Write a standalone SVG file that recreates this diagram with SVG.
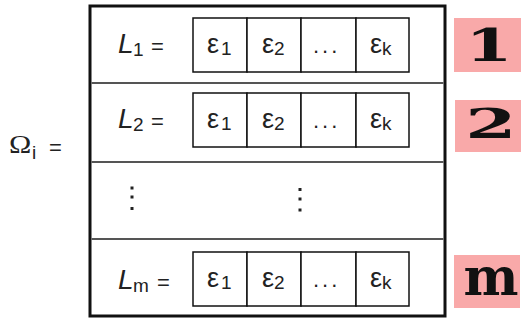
<svg xmlns="http://www.w3.org/2000/svg" width="523" height="322" viewBox="0 0 523 322">
<style>
.t{font-family:"Liberation Sans",Arial,sans-serif;font-size:22px;fill:#222;}
.e{font-family:"Liberation Sans",Arial,sans-serif;font-size:27px;fill:#222;}
.sub{font-family:"Liberation Sans",Arial,sans-serif;font-size:19px;fill:#222;}
.dd{font-family:"Liberation Sans",Arial,sans-serif;font-size:22px;fill:#222;letter-spacing:3px;}
.L{font-family:"Liberation Sans",Arial,sans-serif;font-size:28px;font-style:italic;fill:#222;}
.cell{fill:#fff;stroke:#111;stroke-width:1.5;}
.div{stroke:#555;stroke-width:2;}
.tag{fill:#f9a9a9;}
.num{font-family:"DejaVu Serif",serif;font-weight:bold;fill:#111;}
.dot{fill:#222;}
</style>
<rect width="523" height="322" fill="#fff"/>
<g id="omega">
<text x="9" y="153" font-family="Liberation Serif, serif" font-size="25" fill="#222" transform="translate(9,153) scale(1.2,1) translate(-9,-153)">Ω</text>
<text x="32" y="159" class="sub" font-size="17">i</text>
<text x="49" y="155" class="t">=</text>
</g>
<g id="frame">
<rect x="90" y="6" width="355" height="310" fill="#fff" stroke="#111" stroke-width="3"/>
</g>
<g id="connectors">
<line class="div" x1="91.5" y1="83" x2="443.5" y2="83"/>
<line class="div" x1="91.5" y1="162" x2="443.5" y2="162"/>
<line class="div" x1="91.5" y1="239" x2="443.5" y2="239"/>
</g>
<g id="row1">
<text x="118" y="53" class="L">L</text><text x="133" y="56" class="sub">1</text>
<text x="151" y="54" class="t">=</text>
<rect class="cell" x="193" y="18" width="54" height="54"/>
<rect class="cell" x="247" y="18" width="54" height="54"/>
<rect class="cell" x="301" y="18" width="55" height="54"/>
<rect class="cell" x="356" y="18" width="53" height="54"/>
<text x="207" y="53" class="e">ε</text><text x="221" y="55" class="sub">1</text>
<text x="262" y="53" class="e">ε</text><text x="274" y="55" class="sub">2</text>
<text x="313" y="53" class="dd">...</text>
<text x="370" y="53" class="e">ε</text><text x="382" y="55" class="sub">k</text>
</g>
<g id="row2">
<text x="118" y="128" class="L">L</text><text x="133" y="131" class="sub">2</text>
<text x="151" y="129" class="t">=</text>
<rect class="cell" x="193" y="93" width="54" height="54"/>
<rect class="cell" x="247" y="93" width="54" height="54"/>
<rect class="cell" x="301" y="93" width="55" height="54"/>
<rect class="cell" x="356" y="93" width="53" height="54"/>
<text x="207" y="128" class="e">ε</text><text x="221" y="130" class="sub">1</text>
<text x="262" y="128" class="e">ε</text><text x="274" y="130" class="sub">2</text>
<text x="313" y="128" class="dd">...</text>
<text x="370" y="128" class="e">ε</text><text x="382" y="130" class="sub">k</text>
</g>
<g id="rowdots">
<rect class="dot" x="130.5" y="186.5" width="3" height="3"/>
<rect class="dot" x="130.5" y="195.5" width="3" height="3"/>
<rect class="dot" x="130.5" y="207" width="3" height="3"/>
<rect class="dot" x="298.5" y="188" width="3" height="3"/>
<rect class="dot" x="298.5" y="197.5" width="3" height="3"/>
<rect class="dot" x="298.5" y="208.5" width="3" height="3"/>
</g>
<g id="rowm">
<text x="118" y="289" class="L">L</text><text x="133" y="292" class="sub">m</text>
<text x="157" y="290" class="t">=</text>
<rect class="cell" x="193" y="252" width="54" height="54"/>
<rect class="cell" x="247" y="252" width="54" height="54"/>
<rect class="cell" x="301" y="252" width="55" height="54"/>
<rect class="cell" x="356" y="252" width="53" height="54"/>
<text x="207" y="287" class="e">ε</text><text x="221" y="289" class="sub">1</text>
<text x="262" y="287" class="e">ε</text><text x="274" y="289" class="sub">2</text>
<text x="313" y="287" class="dd">...</text>
<text x="370" y="287" class="e">ε</text><text x="382" y="289" class="sub">k</text>
</g>
<g id="tag1">
<rect class="tag" x="454" y="18" width="67" height="54"/>
<text class="num" font-size="45" text-anchor="middle" transform="translate(489,61) scale(1.5,1)">1</text>
</g>
<g id="tag2">
<rect class="tag" x="455" y="100" width="66" height="52"/>
<text class="num" font-size="41" text-anchor="middle" transform="translate(491,138) scale(1.8,1)">2</text>
</g>
<g id="tagm">
<rect class="tag" x="454" y="255" width="66" height="53"/>
<text class="num" font-size="52" text-anchor="middle" x="491" y="295">m</text>
</g>
</svg>
